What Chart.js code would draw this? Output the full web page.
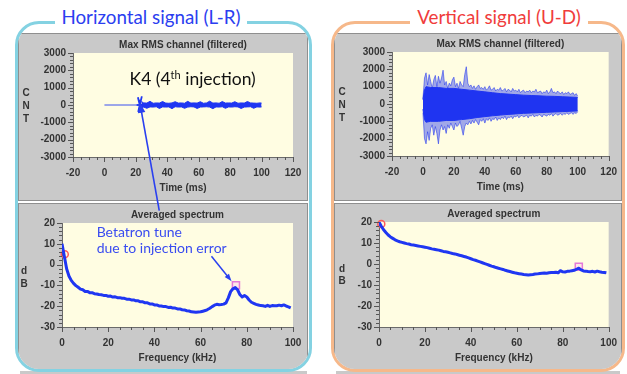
<!DOCTYPE html>
<html><head><meta charset="utf-8">
<script src="https://cdn.jsdelivr.net/npm/chart.js@4.4.1/dist/chart.umd.min.js"></script>
<style>
html,body{margin:0;padding:0;background:#fff;}
body{width:627px;height:374px;position:relative;overflow:hidden;font-family:Lato,sans-serif;}
.frame{position:absolute;box-sizing:border-box;border-radius:24px;overflow:hidden;background:#fff;}
.pan{position:absolute;box-sizing:border-box;background:#c9c9c9;border:1px solid #8f8f8f;}
.strip{position:absolute;background:#c9c9c9;height:3px;top:371px;}
.ttl{position:absolute;background:#fff;text-align:center;font-family:Lato,sans-serif;font-size:18.8px;line-height:22px;white-space:nowrap;}
canvas{position:absolute;}
</style></head><body>
<div class="strip" style="left:20px;width:287px"></div>
<div class="strip" style="left:336px;width:284px"></div>
<div class="frame" style="left:15px;top:21px;width:297px;height:351px;border:3px solid #84d2e2;">
  <div class="pan" style="left:0;top:9px;width:290px;height:168px"></div>
  <div class="pan" style="left:0;top:179px;width:290px;height:200px"></div>
</div>
<div class="frame" style="left:331px;top:21px;width:294px;height:351px;border:3px solid #f6b88a;">
  <div class="pan" style="left:0;top:9px;width:288px;height:168px"></div>
  <div class="pan" style="left:0;top:179px;width:288px;height:200px"></div>
</div>
<div class="ttl" style="left:55px;top:6px;width:192px;color:#2b3ef0">Horizontal signal (L-R)</div>
<div class="ttl" style="left:410px;top:6px;width:178px;color:#f03c3c">Vertical signal (U-D)</div>
<canvas id="cTL" width="292" height="170" style="left:18px;top:32px;width:292px;height:170px"></canvas>
<canvas id="cBL" width="292" height="165" style="left:18px;top:205px;width:292px;height:165px"></canvas>
<canvas id="cTR" width="286" height="170" style="left:335px;top:32px;width:286px;height:170px"></canvas>
<canvas id="cBR" width="286" height="165" style="left:335px;top:205px;width:286px;height:165px"></canvas>
<canvas id="ov" width="627" height="374" style="left:0;top:0;width:627px;height:374px;pointer-events:none"></canvas>
<script>
// ---------------- DATA ----------------
// Horizontal signal (time in ms, amplitude in CNT)
const hBaseT = [0, 22.5];
const hBaseY = [0, 0];
const hStarT = [22.5, 20.5, 22.5, 21.3, 22.5, 23.8, 22.5, 24.8, 22.5, 23.5, 22.5, 21.5, 22.5, 22.5];
const hStarY = [0, 0, 0, 450, 0, 500, 0, 0, 0, -450, 0, -400, 0, 300];
const hBandT = [23.5, 25, 27, 29, 31, 33, 35, 37, 39, 41, 43, 45, 47, 49, 51, 53, 55, 57, 59, 61, 63, 65, 67, 69, 71, 73, 75, 77, 79, 81, 83, 85, 87, 89, 91, 93, 95, 97, 99, 100];
const hBandUp = [200, 120, 110, 210, 100, 120, 110, 200, 110, 100, 120, 190, 110, 120, 100, 210, 110, 120, 110, 190, 100, 120, 220, 110, 120, 100, 200, 110, 120, 110, 190, 100, 120, 110, 200, 120, 110, 100, 120, 110];
const hBandLow = [-210, -120, -190, -110, -120, -100, -200, -110, -120, -110, -210, -100, -120, -110, -190, -120, -100, -110, -200, -120, -110, -100, -120, -210, -110, -120, -100, -190, -110, -120, -100, -110, -200, -120, -110, -100, -190, -110, -120, -110];

// Vertical signal
const vTime = [0,1,2,3,4,5,6,7,8,9,10,11,12,13,14,15,16,17,18,19,20,21,22,23,24,25,26,27,28,29,30,31,32,33,34,35,36,37,38,39,40,41,42,43,44,45,46,47,48,49,50,51,52,53,54,55,56,57,58,59,60,61,62,63,64,65,66,67,68,69,70,71,72,73,74,75,76,77,78,79,80,81,82,83,84,85,86,87,88,89,90,91,92,93,94,95,96,97,98,99,100];
const vOuterUp = [300,1500,1800,1100,1700,1300,900,1400,1650,1000,1600,1200,1500,1950,1100,1300,900,1200,1050,1400,1550,1000,1200,900,1300,1100,1000,1700,2150,1200,1000,1100,900,1050,850,1000,1100,900,950,850,1000,800,900,1050,800,850,950,750,850,800,950,750,800,900,700,850,800,700,900,750,800,700,850,650,750,800,650,750,700,800,650,750,700,850,650,700,750,600,700,650,800,600,700,900,650,700,600,750,650,600,700,550,650,600,700,550,600,650,500,600,450];
const vOuterLow = [-500,-2000,-2300,-1600,-2100,-1400,-1200,-1800,-1300,-1700,-2300,-1500,-1200,-1500,-1300,-1700,-1200,-1400,-1100,-1300,-1500,-1100,-1300,-1200,-1000,-1400,-1800,-1300,-1100,-1200,-1000,-1150,-950,-1100,-900,-1050,-1200,-900,-1000,-850,-1100,-850,-950,-800,-1000,-850,-900,-750,-950,-800,-900,-750,-850,-700,-900,-750,-800,-700,-850,-700,-750,-650,-800,-700,-650,-750,-700,-650,-800,-650,-700,-600,-750,-650,-700,-600,-650,-750,-600,-650,-700,-600,-650,-550,-700,-600,-550,-650,-600,-550,-650,-550,-600,-500,-600,-550,-500,-600,-500,-550,-450];
const vCoreT = [0, 1, 2, 5, 10, 15, 20, 25, 30, 35, 40, 45, 50, 55, 60, 65, 70, 75, 80, 85, 90, 95, 100];
const vCoreUp = [250, 800, 1000, 950, 950, 900, 900, 850, 800, 750, 700, 650, 600, 570, 540, 510, 490, 470, 450, 440, 420, 400, 380];
const vCoreLow = [-300, -900, -1050, -1000, -1000, -950, -950, -900, -850, -780, -730, -680, -640, -600, -570, -540, -520, -500, -480, -460, -440, -420, -400];

// Averaged spectra (frequency in kHz, level in dB)
const freqKHz = [0,1,2,3,4,5,6,7,8,9,10,11,12,13,14,15,16,17,18,19,20,21,22,23,24,25,26,27,28,29,30,31,32,33,34,35,36,37,38,39,40,41,42,43,44,45,46,47,48,49,50,51,52,53,54,55,56,57,58,59,60,61,62,63,64,65,66,67,68,69,70,71,72,73,74,75,76,77,78,79,80,81,82,83,84,85,86,87,88,89,90,91,92,93,94,95,96,97,98,99];
const specH = [10,4,-2,-5.5,-7.6,-9,-10.1,-10.9,-11.8,-12.1,
  -12.9,-12.9,-13.5,-13.5,-14,-14.1,-14.4,-14.5,-14.8,-14.8,
  -15.2,-15.1,-15.6,-15.5,-15.9,-15.9,-16.2,-16.2,-16.6,-16.6,
  -17,-17,-17.4,-17.4,-17.9,-17.9,-18.4,-18.4,-18.9,-18.9,
  -19.4,-19.4,-19.9,-19.9,-20.2,-20.2,-20.6,-20.5,-20.9,-20.9,
  -21.3,-21.3,-21.7,-21.8,-22.2,-22.3,-22.7,-22.8,-22.9,-22.8,
  -22.7,-22.4,-22.1,-21.6,-21,-20.2,-19.5,-19.1,-19.3,-19.2,
  -19,-18.4,-16,-13,-11.6,-11,-12.1,-14.4,-15.6,-14.9,
  -15.6,-17,-18.1,-18.6,-19.1,-19.4,-19.7,-19.8,-20.1,-19.6,
  -20.1,-19.7,-19.8,-19.8,-19.5,-19.8,-19.4,-19.9,-20.3,-20.8];
const specV = [20,18,16.3,15,13.8,12.9,12.2,11.5,11,10.6,
  10.3,10,9.7,9.5,9.2,9,8.8,8.6,8.4,8.2,
  8,7.8,7.5,7.2,7,6.8,6.6,6.3,6,5.8,
  5.6,5.3,5,4.8,4.5,4.2,3.9,3.6,3.3,2.9,
  2.5,2.1,1.8,1.4,1,0.6,0.2,-0.2,-0.6,-1,
  -1.3,-1.7,-2,-2.3,-2.6,-3,-3.3,-3.6,-3.9,-4.2,
  -4.4,-4.6,-4.8,-5,-5.1,-5.2,-5.1,-5,-4.8,-4.7,
  -4.5,-4.4,-4.3,-4.4,-4.2,-4.1,-4,-3.9,-4.2,-3.2,
  -3.7,-3.8,-3.5,-3.4,-3.2,-3,-2.5,-2,-2.8,-3.3,
  -3.4,-3.6,-3.7,-3.5,-3.8,-3.4,-3.7,-3.9,-4,-4.2];
// Markers [x, y]
const hCircle = [1.2, 5];
const hSquare = [75.3, -9.9];
const vCircle = [1, 19];
const vSquare = [87, -1.3];
// Tick / axis definitions
const timeTicks = [-20, 120, 20, 5];     // min, max, major step, minor step
const cntTicks = [-3000, 3000, 1000, 200];
const freqTicks = [0, 100, 20, 5];
const dbTicks = [-30, 20, 10, 2];

// ---------------- HELPERS ----------------
const BLUE = '#1f36f2';
const pairs = (xs, ys) => xs.map((x, i) => ({x: x, y: ys[i]}));
const TXT = '#333';
const FONT = 'Liberation Sans, Arial, sans-serif';

const META = {};

function arrow(ctx, x1, y1, x2, y2, head, w, col) {
  ctx.save();
  ctx.strokeStyle = col; ctx.fillStyle = col; ctx.lineWidth = w;
  const ang = Math.atan2(y2 - y1, x2 - x1);
  ctx.beginPath(); ctx.moveTo(x1, y1);
  ctx.lineTo(x2 - Math.cos(ang) * head * 0.8, y2 - Math.sin(ang) * head * 0.8); ctx.stroke();
  ctx.beginPath(); ctx.moveTo(x2, y2);
  ctx.lineTo(x2 - head * Math.cos(ang - 0.35), y2 - head * Math.sin(ang - 0.35));
  ctx.lineTo(x2 - head * Math.cos(ang + 0.35), y2 - head * Math.sin(ang + 0.35));
  ctx.closePath(); ctx.fill();
  ctx.restore();
}

const deco = {
  id: 'deco',
  beforeDraw(c) {
    const a = c.chartArea, ctx = c.ctx;
    ctx.save(); ctx.fillStyle = '#fffde2';
    ctx.fillRect(a.left, a.top, a.right - a.left, a.bottom - a.top); ctx.restore();
  },
  afterDraw(c) {
    const m = META[c.canvas.id]; if (!m) return;
    const a = c.chartArea, ctx = c.ctx, xs = c.scales.x, ys = c.scales.y;
    ctx.save();
    ctx.strokeStyle = '#555'; ctx.lineWidth = 1;
    const isMajor = (v, st) => Math.abs(v / st - Math.round(v / st)) < 1e-6;
    for (let v = m.xt[0]; v <= m.xt[1] + 1e-9; v += m.xt[3]) {
      const px = Math.round(xs.getPixelForValue(v)) + 0.5;
      ctx.beginPath(); ctx.moveTo(px, a.bottom); ctx.lineTo(px, a.bottom + (isMajor(v, m.xt[2]) ? 5 : 3)); ctx.stroke();
    }
    for (let v = m.yt[0]; v <= m.yt[1] + 1e-9; v += m.yt[3]) {
      const py = Math.round(ys.getPixelForValue(v)) + 0.5;
      ctx.beginPath(); ctx.moveTo(a.left, py); ctx.lineTo(a.left - (isMajor(v, m.yt[2]) ? 5 : 3), py); ctx.stroke();
    }
    ctx.fillStyle = TXT; ctx.font = 'bold 10px ' + FONT;
    ctx.textAlign = 'center'; ctx.textBaseline = 'middle';
    const cx = (a.left + a.right) / 2;
    ctx.fillText(m.title, cx, a.top - 8);
    ctx.fillText(m.xTitle, cx, a.bottom + 31);
    const cy = (a.top + a.bottom) / 2;
    m.yLetters.forEach((L, i) => ctx.fillText(L, m.yLx, cy + m.yLoff[i]));
    ctx.restore();
    if (m.extra) m.extra(c);
  }
};

function makeChart(id, area, xt, yt, datasets, meta) {
  const cv = document.getElementById(id);
  const W = cv.width, H = cv.height;
  META[id] = Object.assign({xt: xt, yt: yt}, meta);
  const tickFont = {family: FONT, size: 10, weight: 'bold'};
  return new Chart(cv, {
    type: 'line',
    data: {datasets: datasets},
    options: {
      responsive: false, animation: false, events: [],
      layout: {padding: {top: area.t, right: W - area.r, left: 0, bottom: 0}},
      plugins: {legend: {display: false}, tooltip: {enabled: false}, title: {display: false}},
      elements: {point: {radius: 0}, line: {tension: 0}},
      scales: {
        x: {type: 'linear', min: xt[0], max: xt[1],
          ticks: {stepSize: xt[2], color: TXT, font: tickFont, padding: 4, maxRotation: 0, autoSkip: false, callback: v => String(v)},
          grid: {drawOnChartArea: false, drawTicks: true, tickLength: 6, color: 'rgba(0,0,0,0)', tickColor: 'rgba(0,0,0,0)'},
          border: {display: true, color: '#6a6a6a', width: 1},
          afterFit: s => { s.height = H - area.b; }},
        y: {type: 'linear', min: yt[0], max: yt[1],
          ticks: {stepSize: yt[2], color: TXT, font: tickFont, padding: 2, autoSkip: false, callback: v => String(v)},
          grid: {drawOnChartArea: false, drawTicks: true, tickLength: 5, color: 'rgba(0,0,0,0)', tickColor: 'rgba(0,0,0,0)'},
          border: {display: true, color: '#6a6a6a', width: 1},
          afterFit: s => { s.width = area.l; }}
      }
    },
    plugins: [deco]
  });
}

const lineDs = (data, col, w, extra) => Object.assign({data: data, borderColor: col, backgroundColor: col, borderWidth: w, pointRadius: 0, fill: false}, extra || {});
const markerDs = (pt, style, col, bg, r) => ({data: [{x: pt[0], y: pt[1]}], showLine: false, pointStyle: style, pointRadius: r, borderColor: col, backgroundColor: bg, pointBorderWidth: 1.5, borderWidth: 1.5, clip: false});

// ---------------- CHARTS ----------------
const cTL = makeChart('cTL', {l: 55, t: 21, r: 275, b: 125}, timeTicks, cntTicks, [
  lineDs(pairs(hBaseT, hBaseY), '#3a50f0', 1),
  lineDs(pairs(hBandT, hBandUp), BLUE, 1, {fill: '+1'}),
  lineDs(pairs(hBandT, hBandLow), BLUE, 1),
  lineDs(pairs(hStarT, hStarY), BLUE, 1.8)
], {title: 'Max RMS channel (filtered)', xTitle: 'Time (ms)', yLetters: ['C', 'N', 'T'], yLx: 8, yLoff: [-12, 1, 14],
  extra: c => {
    const ctx = c.ctx, xs = c.scales.x, ys = c.scales.y;
    ctx.save(); ctx.fillStyle = '#111'; ctx.textBaseline = 'alphabetic'; ctx.textAlign = 'left';
    let x = xs.getPixelForValue(16); const y = ys.getPixelForValue(1150);
    ctx.font = '17.5px Lato';
    ctx.fillText('K4 (4', x, y); x += ctx.measureText('K4 (4').width;
    ctx.font = '11px Lato'; ctx.fillText('th', x, y - 6); x += ctx.measureText('th').width;
    ctx.font = '17.5px Lato'; ctx.fillText(' injection)', x, y);
    ctx.restore();
  }});

const cBL = makeChart('cBL', {l: 44, t: 18, r: 275, b: 122}, freqTicks, dbTicks, [
  lineDs(pairs(freqKHz, specH), BLUE, 3, {borderJoinStyle: 'round'}),
  markerDs(hCircle, 'circle', '#ff5a5a', 'rgba(0,0,0,0)', 3.5),
  markerDs(hSquare, 'rect', '#e47ad8', 'rgba(255,190,240,0.35)', 5)
], {title: 'Averaged spectrum', xTitle: 'Frequency (kHz)', yLetters: ['d', 'B'], yLx: 6, yLoff: [-4, 9],
  extra: c => {
    const ctx = c.ctx, xs = c.scales.x, ys = c.scales.y;
    ctx.save(); ctx.fillStyle = '#3a4cf0'; ctx.textAlign = 'left'; ctx.textBaseline = 'alphabetic';
    ctx.font = '14px Lato';
    ctx.fillText('Betatron tune', xs.getPixelForValue(15), ys.getPixelForValue(13.4));
    ctx.fillText('due to injection error', xs.getPixelForValue(15), ys.getPixelForValue(5.7));
    ctx.restore();
    arrow(ctx, xs.getPixelForValue(64.7), ys.getPixelForValue(4), xs.getPixelForValue(73.4), ys.getPixelForValue(-8), 8, 1.5, '#2a40f0');
  }});

const cTR = makeChart('cTR', {l: 57, t: 20, r: 275, b: 124}, timeTicks, cntTicks, [
  lineDs(pairs(vTime, vOuterUp), 'rgba(30,50,240,0.55)', 1, {fill: '+1', backgroundColor: 'rgba(30,50,240,0.42)'}),
  lineDs(pairs(vTime, vOuterLow), 'rgba(30,50,240,0.55)', 1),
  lineDs(pairs(vCoreT, vCoreUp), BLUE, 1, {fill: '+1'}),
  lineDs(pairs(vCoreT, vCoreLow), BLUE, 1)
], {title: 'Max RMS channel (filtered)', xTitle: 'Time (ms)', yLetters: ['C', 'N', 'T'], yLx: 7, yLoff: [-12, 1, 14]});

const cBR = makeChart('cBR', {l: 44, t: 17, r: 275, b: 122}, freqTicks, dbTicks, [
  lineDs(pairs(freqKHz, specV), BLUE, 3, {borderJoinStyle: 'round'}),
  markerDs(vCircle, 'circle', '#ff5a5a', 'rgba(0,0,0,0)', 3.5),
  markerDs(vSquare, 'rect', '#e47ad8', 'rgba(255,190,240,0.35)', 5)
], {title: 'Averaged spectrum', xTitle: 'Frequency (kHz)', yLetters: ['d', 'B'], yLx: 7, yLoff: [-5, 7]});

// Long annotation arrow from the spectrum panel to the injection kick
(function () {
  const ov = document.getElementById('ov').getContext('2d');
  const a = document.getElementById('cTL'), b = document.getElementById('cBL');
  const hx = cTL.scales.x.getPixelForValue(22.5) + a.offsetLeft;
  const hy = cTL.scales.y.getPixelForValue(150) + a.offsetTop;
  const tx = cBL.scales.x.getPixelForValue(42.1) + b.offsetLeft;
  const ty = cBL.scales.y.getPixelForValue(25.9) + b.offsetTop;
  arrow(ov, tx, ty, hx, hy, 11, 1.6, '#2a40f0');
})();
</script>
</body></html>
